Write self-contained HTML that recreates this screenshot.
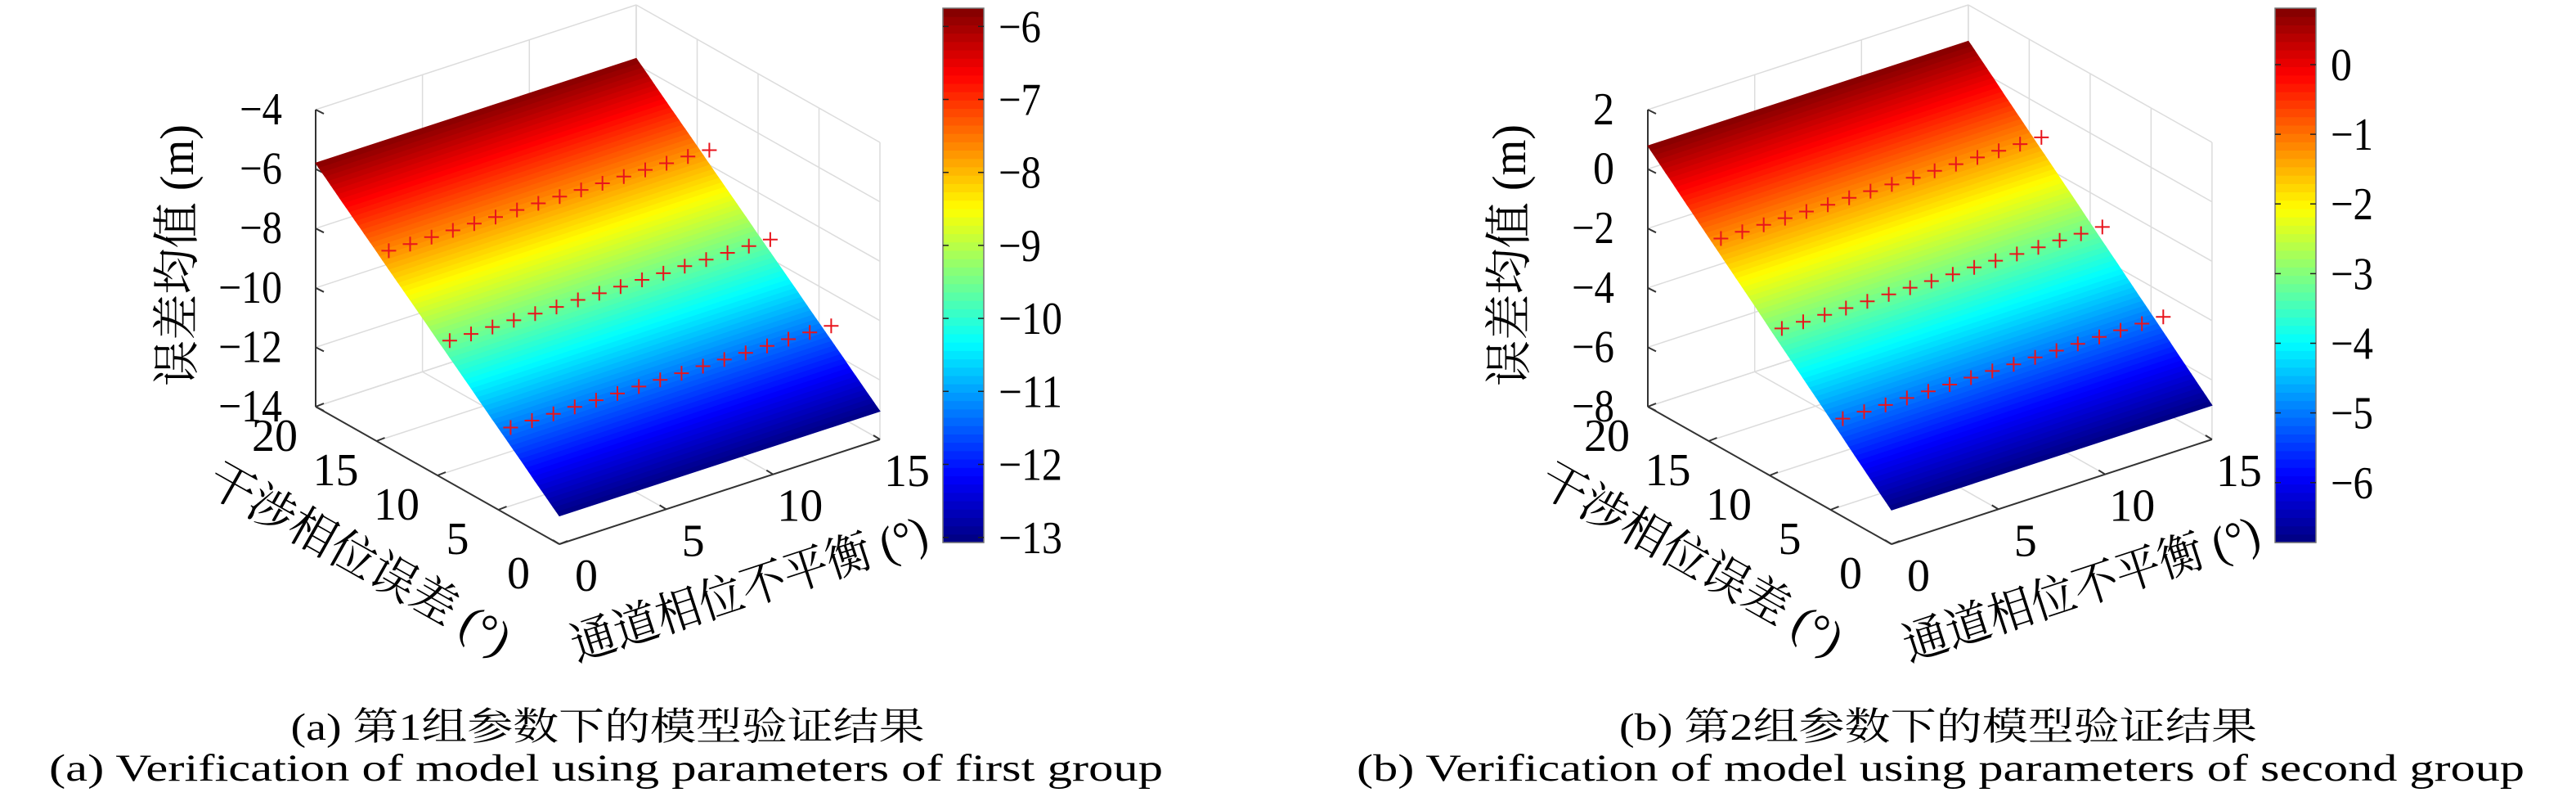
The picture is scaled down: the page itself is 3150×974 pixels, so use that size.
<!DOCTYPE html>
<html><head><meta charset="utf-8"><style>
html,body{margin:0;padding:0;background:#fff}
svg{display:block}
text{font-family:"Liberation Serif","Noto Serif CJK SC","Noto Sans CJK SC",serif;fill:#000}
</style></head><body>
<svg id="fig" width="3150" height="974" viewBox="0 0 3150 974" xmlns="http://www.w3.org/2000/svg">
<g id="pa"></g>
<g id="pb"></g>
<text x="743" y="904" font-size="47" text-anchor="middle" textLength="775" lengthAdjust="spacingAndGlyphs">(a) 第1组参数下的模型验证结果</text>
<text x="60" y="954" font-size="47" textLength="1362" lengthAdjust="spacingAndGlyphs">(a) Verification of model using parameters of first group</text>
<text x="2370" y="904" font-size="47" text-anchor="middle" textLength="780" lengthAdjust="spacingAndGlyphs">(b) 第2组参数下的模型验证结果</text>
<text x="1659" y="954" font-size="47" textLength="1428" lengthAdjust="spacingAndGlyphs">(b) Verification of model using parameters of second group</text>
</svg>
<script>
// ---- data ----
const xTicks = [0, 5, 10, 15];
const yTicks = [0, 5, 10, 15, 20];
const zTicksA = [-14, -12, -10, -8, -6, -4];
const zTicksB = [-8, -6, -4, -2, 0, 2];
const cbTicksA = [-6, -7, -8, -9, -10, -11, -12, -13];
const cbTicksB = [0, -1, -2, -3, -4, -5, -6];
const surfY = [0,1,2,3,4,5,6,7,8,9,10,11,12,13,14,15,16,17,18,19,20];
const surfZA = [-13.05,-12.69,-12.33,-11.96,-11.60,-11.24,-10.88,-10.51,-10.15,-9.79,-9.43,-9.06,-8.70,-8.34,-7.98,-7.61,-7.25,-6.89,-6.53,-6.16,-5.80];
const surfZB = [-6.85,-6.47,-6.09,-5.71,-5.32,-4.94,-4.56,-4.18,-3.80,-3.42,-3.04,-2.65,-2.27,-1.89,-1.51,-1.13,-0.75,-0.37,0.02,0.40,0.78];
const markX = [0,1,2,3,4,5,6,7,8,9,10,11,12,13,14,15];
const markRowY = [14, 9, 4];
const markZA1 = [-7.36,-7.37,-7.37,-7.38,-7.39,-7.40,-7.40,-7.41,-7.42,-7.43,-7.44,-7.45,-7.46,-7.47,-7.48,-7.50];
const markZA2 = [-9.23,-9.24,-9.24,-9.25,-9.26,-9.27,-9.27,-9.28,-9.29,-9.30,-9.31,-9.31,-9.32,-9.33,-9.34,-9.35];
const markZA3 = [-11.00,-11.00,-11.01,-11.01,-11.02,-11.03,-11.03,-11.04,-11.05,-11.05,-11.06,-11.07,-11.07,-11.08,-11.09,-11.10];
const markZB1 = [-0.95,-0.96,-0.96,-0.97,-0.98,-0.99,-0.99,-1.00,-1.01,-1.02,-1.02,-1.03,-1.04,-1.05,-1.06,-1.07];
const markZB2 = [-2.82,-2.83,-2.83,-2.84,-2.85,-2.85,-2.86,-2.87,-2.88,-2.88,-2.89,-2.90,-2.91,-2.91,-2.92,-2.93];
const markZB3 = [-4.70,-4.70,-4.71,-4.71,-4.72,-4.73,-4.73,-4.74,-4.75,-4.75,-4.76,-4.77,-4.77,-4.78,-4.79,-4.80];

const NS = "http://www.w3.org/2000/svg";
function mk(parent, tag, attrs, txt){
  const e = document.createElementNS(NS, tag);
  for (const k in attrs) e.setAttribute(k, attrs[k]);
  if (txt !== undefined) e.textContent = txt;
  parent.appendChild(e);
  return e;
}
function jet(t){
  t = Math.max(0, Math.min(1, t));
  const c = v => Math.round(255 * Math.max(0, Math.min(1, v)));
  const r = 1.5 - Math.abs(4*t - 3), g = 1.5 - Math.abs(4*t - 2), b = 1.5 - Math.abs(4*t - 1);
  return `rgb(${c(r)},${c(g)},${c(b)})`;
}
function fmt(v){ return v < 0 ? "\u2212" + Math.abs(v) : String(v); }

function panel(g, dx, zTicks, sY, sZ, rowsZ, cbTicks, cmin, cmax, tag){
  const zmin = zTicks[0], zmax = zTicks[zTicks.length-1];
  const P = (x, y, z) => [684 + dx + 26.13*x - 14.9*y, 665 - 8.53*x - 8.4*y - 36.3*(z - zmin)];
  const line = (a, b, st, w, name) => {
    const l = mk(g, "line", {x1:a[0].toFixed(1), y1:a[1].toFixed(1), x2:b[0].toFixed(1), y2:b[1].toFixed(1), stroke:st, "stroke-width":w});
    
    
  };
  const GC = "#dcdcdc";
  // back wall y=20
  xTicks.forEach(x => line(P(x,20,zmin), P(x,20,zmax), GC, 1.5, 'grid-line'));
  zTicks.forEach(z => line(P(0,20,z), P(15,20,z), GC, 1.5, 'grid-line'));
  // back wall x=15
  yTicks.forEach(y => line(P(15,y,zmin), P(15,y,zmax), GC, 1.5, 'grid-line'));
  zTicks.forEach(z => line(P(15,0,z), P(15,20,z), GC, 1.5, 'grid-line'));
  // floor
  xTicks.forEach(x => line(P(x,0,zmin), P(x,20,zmin), GC, 1.5, 'grid-line'));
  yTicks.forEach(y => line(P(0,y,zmin), P(15,y,zmin), GC, 1.5, 'grid-line'));
  // axes
  const AC = "#333";
  line(P(0,20,zmin), P(0,20,zmax), AC, 2, 'z-axis');
  line(P(0,0,zmin), P(0,20,zmin), AC, 2, 'y-axis');
  line(P(0,0,zmin), P(15,0,zmin), AC, 2, 'x-axis');
  zTicks.forEach(z => { const p = P(0,20,z); line(p, [p[0]+10, p[1]+5], AC, 2, 'z-tick'); });
  yTicks.forEach(y => { const p = P(0,y,zmin); line(p, [p[0]+10, p[1]-4], AC, 2, 'y-tick'); });
  xTicks.forEach(x => { const p = P(x,0,zmin); line(p, [p[0]-8, p[1]-5], AC, 2, 'x-tick'); });
  // surface strips
  const sg = mk(g, "g", {});
  
  
  const SUB = 4;
  for (let i = 0; i < sY.length - 1; i++) {
    for (let k = 0; k < SUB; k++) {
      const f0 = k/SUB, f1 = (k+1)/SUB;
      const y0 = sY[i] + (sY[i+1]-sY[i])*f0, y1 = sY[i] + (sY[i+1]-sY[i])*f1;
      const z0 = sZ[i] + (sZ[i+1]-sZ[i])*f0, z1 = sZ[i] + (sZ[i+1]-sZ[i])*f1;
      const pts = [P(0,y0,z0), P(15,y0,z0), P(15,y1,z1), P(0,y1,z1)];
      const col = jet(((z0+z1)/2 - cmin)/(cmax - cmin));
      const pg = mk(sg, "polygon", {points: pts.map(p => p[0].toFixed(1)+","+p[1].toFixed(1)).join(" "), fill: col, stroke: col, "stroke-width": 1});
      
      
    }
  }
  // markers
  rowsZ.forEach((zs, r) => {
    markX.forEach((x, j) => {
      const p = P(x, markRowY[r], zs[j]);
      const m = mk(g, "path", {d:`M${(p[0]-9).toFixed(1)},${p[1].toFixed(1)}h18M${p[0].toFixed(1)},${(p[1]-9).toFixed(1)}v18`, stroke:"#e8141c", "stroke-width":2, fill:"none"});
      
      
    });
  });
  // tick labels
  zTicks.forEach(z => {
    const p = P(0,20,z);
    const s = fmt(z);
    const t = mk(g, "text", {x:345+dx, y:(p[1]+18).toFixed(1), "font-size":56, "text-anchor":"end", textLength:26*s.length, lengthAdjust:"spacingAndGlyphs"}, s);
    
    
  });
  yTicks.forEach(y => {
    const p = P(0,y,zmin);
    const t = mk(g, "text", {x:(p[0]-50).toFixed(1), y:(p[1]+54).toFixed(1), "font-size":56, "text-anchor":"middle"}, String(y));
    
    
  });
  xTicks.forEach(x => {
    const p = P(x,0,zmin);
    const t = mk(g, "text", {x:(p[0]+33).toFixed(1), y:(p[1]+57).toFixed(1), "font-size":56, "text-anchor":"middle"}, String(x));
    
    
  });
  // axis titles
  let t = mk(g, "text", {x:0, y:0, "font-size":58, "text-anchor":"middle", transform:`translate(${236+dx},312) rotate(-90)`, textLength:320, lengthAdjust:"spacingAndGlyphs"}, "误差均值 (m)");
  
  
  t = mk(g, "text", {x:0, y:0, "font-size":58, "text-anchor":"middle", transform:`translate(${430+dx},700) rotate(29.4)`, textLength:415, lengthAdjust:"spacingAndGlyphs"}, "干涉相位误差 (°)");
  
  
  t = mk(g, "text", {x:0, y:0, "font-size":58, "text-anchor":"middle", transform:`translate(${922+dx},738) rotate(-18.1)`, textLength:455, lengthAdjust:"spacingAndGlyphs"}, "通道相位不平衡 (°)");
  
  
  // colorbar
  const cbx = 1153 + dx, cbTop = 10, cbBot = 663, cbW = 50;
  const cg = mk(g, "g", {});
  
  
  const N = 64, h = (cbBot - cbTop)/N;
  for (let i = 0; i < N; i++) {
    const r = mk(cg, "rect", {x:cbx, y:(cbBot - (i+1)*h).toFixed(2), width:cbW, height:(h+0.6).toFixed(2), fill:jet((i+0.5)/N)});
    
    
  }
  const bd = mk(cg, "rect", {x:cbx, y:cbTop, width:cbW, height:cbBot-cbTop, fill:"none", stroke:"#777", "stroke-width":1.5});
  
  
  cbTicks.forEach(v => {
    const y = cbBot - (v - cmin)/(cmax - cmin)*(cbBot - cbTop);
    line([cbx, y], [cbx+7, y], "#222", 1.5, 'colorbar-tick');
    line([cbx+cbW-7, y], [cbx+cbW, y], "#222", 1.5, 'colorbar-tick');
    const s = fmt(v);
    const tl = mk(cg, "text", {x:cbx+68, y:(y+19).toFixed(1), "font-size":56, textLength:26*s.length, lengthAdjust:"spacingAndGlyphs"}, s);
    
    
  });
}
panel(document.getElementById("pa"), 0, zTicksA, surfY, surfZA, [markZA1, markZA2, markZA3], cbTicksA, -13.07, -5.75, "a");
panel(document.getElementById("pb"), 1629, zTicksB, surfY, surfZB, [markZB1, markZB2, markZB3], cbTicksB, -6.86, 0.81, "b");
</script>
</body></html>
